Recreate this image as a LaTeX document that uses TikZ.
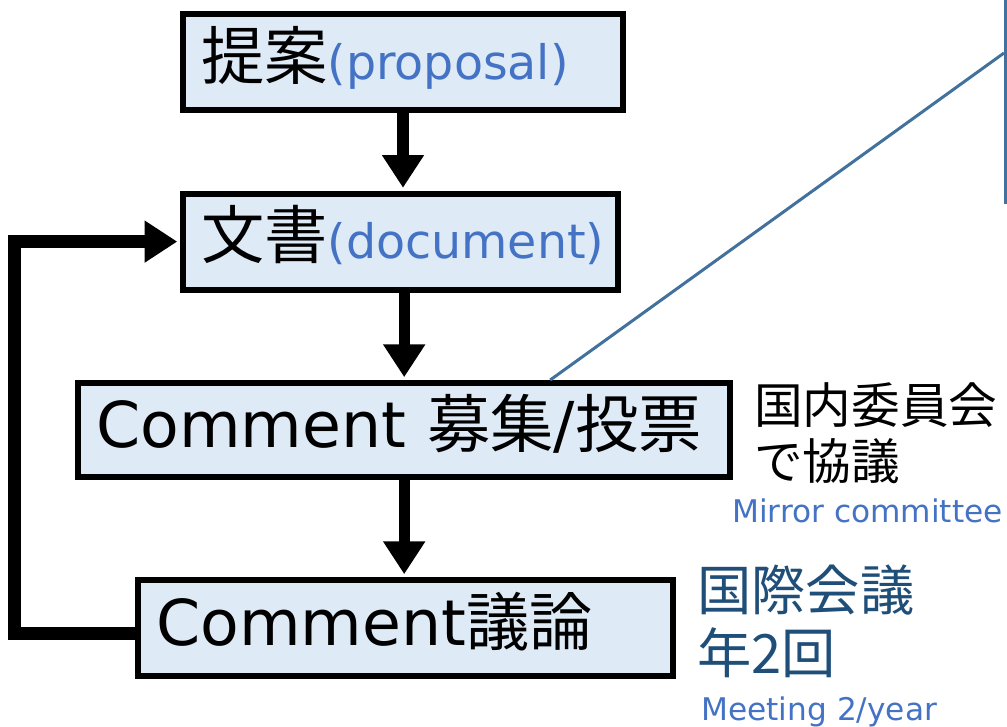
\documentclass[tikz,border=0pt]{standalone}
\usepackage{fontspec}
\setmainfont{DejaVu Sans}
\newfontfamily\jp{Noto Sans CJK JP}
\usepackage{tikz}
\usetikzlibrary{arrows.meta}
\definecolor{boxfill}{HTML}{DEEBF7}
\definecolor{engblue}{HTML}{4472C4}
\definecolor{darkblue}{HTML}{1F4E79}
\definecolor{lineblue}{HTML}{41719C}
\tikzstyle{stage} = [rectangle, draw=black, line width=0.15cm, fill=boxfill,
inner xsep=0.45cm, inner ysep=0.2cm, minimum height=2.4cm, text height=1.25cm,
text depth=0.4cm, align=left, font=\fontsize{45}{54}\selectfont]
\tikzstyle{arrow} = [line width=0.28cm, -{Triangle[width=1cm,length=0.82cm]},
shorten >=0.07cm]
\tikzstyle{callout} = [draw=lineblue, line width=0.075cm]
\tikzstyle{notebox} = [rectangle, draw=lineblue, line width=0.1cm, fill=boxfill]
\tikzstyle{sidenote} = [inner sep=0pt, align=left]
\newcommand{\eng}[1]{\mbox{\color{engblue}\fontsize{33.8}{40}\selectfont #1}}

\begin{document}
\begin{tikzpicture}[node distance=4.49cm]
\useasboundingbox (0,0) rectangle (25.175,-18.15);

\node(prop)[stage, text width=10.1cm] at (10.075,-1.55) {{\jp 提案}\eng{(proposal)}};
\node(doc)[stage, text width=9.975cm, below of=prop, xshift=-0.06cm]
{{\jp 文書}\eng{(document)}};
\node(vote)[stage, text width=15.4cm, minimum height=2.35cm, below of=doc,
xshift=0.09cm, yshift=-0.22cm] {\mbox{Comment {\jp 募集}/{\jp 投票}}};
\node(talk)[stage, text width=12.475cm, below of=vote, xshift=0.04cm, yshift=-0.46cm]
{Comment{\jp 議論}};

\node(note)[notebox, anchor=south west, minimum width=2cm, minimum height=5.6cm]
at (25.1,-5.1) {};
\coordinate(noteedge) at (25.1,-1.325);
\coordinate(loopx) at (0.35,-10);

\node(mirrorjp)[sidenote, anchor=north west, font=\jp\fontsize{34.6}{40.4}\selectfont]
at (18.85,-9.55) {国内委員会\\で協議};
\node(mirroren)[sidenote, anchor=base west, text=engblue,
font=\fontsize{22.2}{26}\selectfont] at (18.3,-13.05) {Mirror committee};
\node(meetjp)[sidenote, anchor=north west, text=darkblue,
font=\jp\fontsize{38.6}{44.6}\selectfont] at (17.425,-14.125) {国際会議\\年2回};
\node(meeten)[sidenote, anchor=base west, text=engblue,
font=\fontsize{22.2}{26}\selectfont] at (17.525,-18.0) {Meeting 2/year};

\draw[arrow](prop.south) -- (prop.south |- doc.north);
\draw[arrow](vote.north |- doc.south) -- (vote.north);
\draw[arrow](vote.south) -- (vote.south |- talk.north);
\draw[arrow, line width=0.325cm]([yshift=-0.125cm]talk.west) -| (loopx) |- (doc.west);
\draw[callout]([xshift=3.65cm]vote.north) -- (noteedge);

\end{tikzpicture}
\end{document}
